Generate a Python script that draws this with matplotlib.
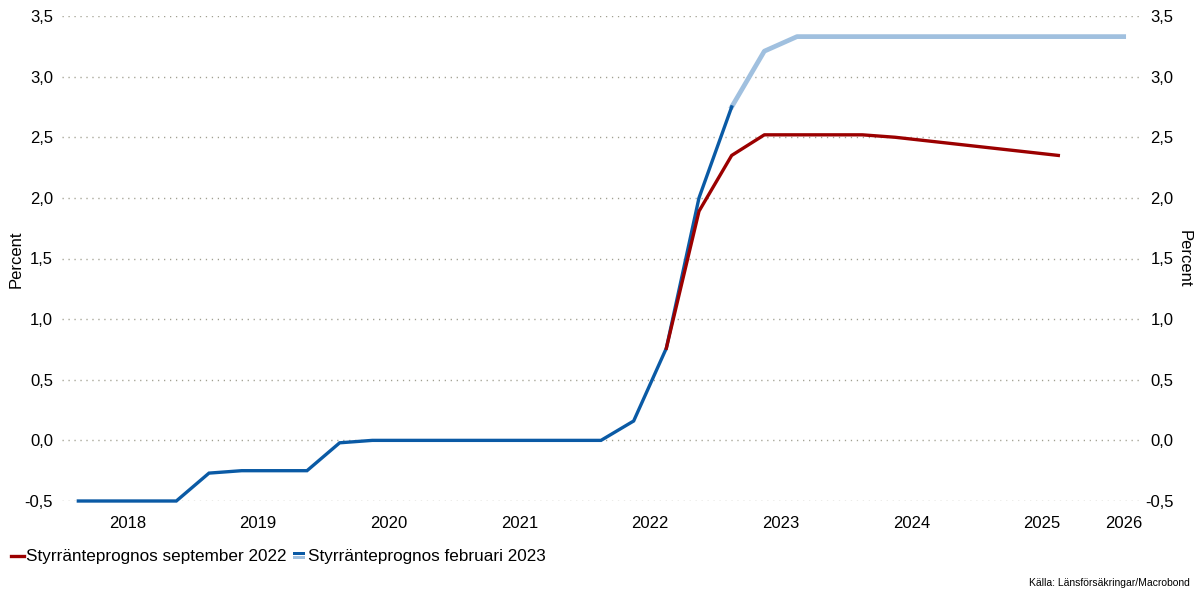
import numpy as np
import pandas as pd
import matplotlib
matplotlib.use("Agg")
import matplotlib.pyplot as plt
from matplotlib.legend_handler import HandlerBase
from matplotlib.patches import Rectangle
from matplotlib.lines import Line2D

plt.rcParams['font.family'] = ['Liberation Sans', 'DejaVu Sans']

# quarterly averages of the policy rate, percent
outcome_q = pd.period_range("2018Q1", "2023Q1", freq="Q")
outcome = [-0.5, -0.5, -0.5, -0.5,
           -0.27, -0.25, -0.25, -0.25,
           -0.02, 0.0, 0.0, 0.0,
           0.0, 0.0, 0.0, 0.0,
           0.0, 0.16, 0.76, 2.0,
           2.75]

feb23_q = pd.period_range("2023Q1", "2026Q1", freq="Q")
feb23 = [2.75, 3.21, 3.33, 3.33, 3.33, 3.33, 3.33, 3.33, 3.33, 3.33, 3.33, 3.33, 3.33]

sep22_q = pd.period_range("2022Q3", "2025Q3", freq="Q")
sep22 = [0.76, 1.89, 2.35, 2.52, 2.52, 2.52, 2.52, 2.50, 2.47, 2.44, 2.41, 2.38, 2.35]

years = [2018, 2019, 2020, 2021, 2022, 2023, 2024, 2025, 2026]
yticks = [-0.5, 0.0, 0.5, 1.0, 1.5, 2.0, 2.5, 3.0, 3.5]

RED = "#9b0000"
BLUE = "#0a5aa5"
LIGHT = "#a0c0df"


def qpos(periods):
    # middle of each quarter as decimal year
    return np.array([p.year + (p.quarter - 1) * 0.25 + 0.125 for p in periods])


xmin, xmax = 2018.0, 2026.25

fig = plt.figure(figsize=(12, 5.97), dpi=100)
ax = fig.add_axes([62 / 1200, 1 - 501 / 597, (1140 - 62) / 1200, (501 - 16) / 597])

for y in yticks:
    ax.axhline(y, color="#a09f90", lw=1.0, linestyle=(0, (0.9, 3.4)), zorder=0)

ax.plot(qpos(outcome_q), outcome, color=BLUE, lw=2.4, zorder=3, clip_on=False,
        solid_joinstyle="miter")
ax.plot(qpos(feb23_q), feb23, color=LIGHT, lw=3.4, zorder=2, clip_on=False)
ax.plot(qpos(sep22_q), sep22, color=RED, lw=2.4, zorder=4, clip_on=False)

ax.set_xlim(xmin, xmax)
ax.set_ylim(-0.5, 3.5)
for s in ax.spines.values():
    s.set_visible(False)

xt = [min(y + 0.5, (y + xmax) / 2) for y in years]
ax.set_xticks(xt)
ax.set_xticklabels([str(y) for y in years], fontsize=12)
ax.tick_params(axis="x", length=0, pad=11)

ylabels = [f"{v:.1f}".replace(".", ",") for v in yticks]
ax.set_yticks(yticks)
ax.set_yticklabels(ylabels, fontsize=12)
ax.tick_params(axis="y", length=0, pad=6.5)

ax2 = ax.twinx()
ax2.set_ylim(-0.5, 3.5)
ax2.set_yticks(yticks)
ax2.set_yticklabels(ylabels, fontsize=12, ha="right")
ax2.tick_params(axis="y", length=0, pad=24)
for s in ax2.spines.values():
    s.set_visible(False)

fig.text(16 / 1200, 1 - 259 / 597, "Percent", rotation=90, ha="center", va="center", fontsize=12)
fig.text(1184 / 1200, 1 - 259 / 597, "Percent", rotation=270, ha="center", va="center", fontsize=12)


class TwoStripe(HandlerBase):
    def create_artists(self, legend, orig_handle, xdescent, ydescent,
                       width, height, fontsize, trans):
        h = 2.2
        yc = height / 2 - ydescent
        top = Rectangle((-xdescent, yc + 0.3), width, h, facecolor=BLUE,
                        edgecolor="none", transform=trans)
        bot = Rectangle((-xdescent, yc - h - 0.3), width, h, facecolor=LIGHT,
                        edgecolor="none", transform=trans)
        return [top, bot]


red_h = Line2D([], [], color=RED, lw=2.4)
blue_h = Rectangle((0, 0), 1, 1)
fig.legend([red_h, blue_h],
           ["Styrränteprognos september 2022", "Styrränteprognos februari 2023"],
           handler_map={Rectangle: TwoStripe()},
           loc="center left", bbox_to_anchor=(-0.001, 1 - 557 / 597),
           ncol=2, frameon=False, fontsize=12.3, handlelength=0.75,
           handletextpad=0.15, columnspacing=0.35, borderpad=0.2)

fig.text(1190 / 1200, 1 - 583 / 597, "Källa: Länsförsäkringar/Macrobond",
         ha="right", va="center", fontsize=7.5)

fig.savefig("out.png", dpi=100)
